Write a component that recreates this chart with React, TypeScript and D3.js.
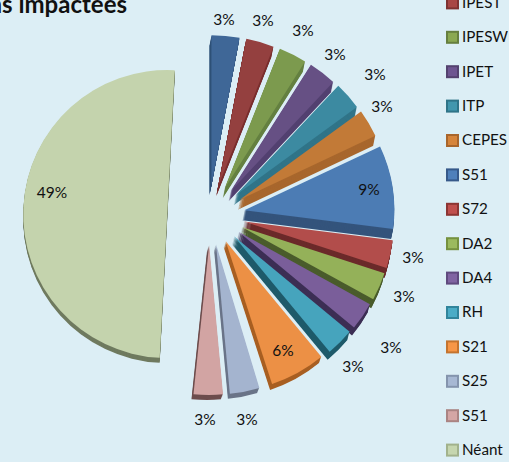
import React from "react";
import * as d3 from "d3";

const categories = ["", "IPEST", "IPESW", "IPET", "ITP", "CEPES", "S51", "S72", "DA2", "DA4", "RH", "S21", "S25", "S51", "Néant"];
const values = [3, 3, 3, 3, 3, 3, 9, 3, 3, 3, 3, 6, 3, 3, 49];
const topColors = ["#3f6797", "#94403f", "#7c9a4e", "#665084", "#3c8aa1", "#c27a37", "#4c7cb4", "#b24d4b", "#94b159", "#7a5e9a", "#46a4bd", "#ec9045", "#a4b4cf", "#d2a4a3", "#c4d3ad"];
const sideColors = ["#2f5078", "#7a2f2f", "#648040", "#524070", "#307488", "#a8672d", "#34547c", "#6b2a2a", "#4a5c2c", "#3c2e54", "#1e5a6a", "#a85f22", "#6a7488", "#6d4d4d", "#6f7a5f"];
const legendInner = ["#3f6797", "#a84644", "#8aa851", "#6e5590", "#4297ae", "#d6843a", "#4f80bb", "#c04f4d", "#9bba5e", "#8064a2", "#4bacc6", "#f79646", "#a7b8d3", "#d4a6a5", "#c6d6af"];
const legendBorder = ["#2f5078", "#7e3231", "#667f3f", "#54426f", "#2f7488", "#a8652b", "#36598a", "#8c3533", "#75913f", "#5f4a7e", "#31849b", "#c4742f", "#8494ad", "#aa8483", "#a2b28c"];
const title = "Directions impactées";
const labelFont = "Lato, 'Open Sans', sans-serif";

const W = 509, H = 462;
const cx = 208, cy = 215;
const explode = 40;
const sx = 0.92, sy = 0.75;
const depthScale = d3.scaleLinear().domain([100, 170]).range([10, 5]).clamp(true);
const deg2rad = Math.PI / 180;

// perspective slant of the last slices, in degrees (start, end)
const slant: Record<number, [number, number]> = { 12: [1.2, 1.9], 13: [1.9, 2.4], 14: [-0.6, 3] };

const labelXY: [number, number][] = [
  [224, 20], [263, 21], [303, 31], [335, 55], [375, 75], [382, 107], [369, 190],
  [413, 258], [404, 297], [391, 348], [353, 367], [283, 351], [247, 420], [205, 420], [52, 193],
];

const legendX = 446;
const legendY0 = -32;
const legendStep = 34.4;

export default function App() {
  const arcs = d3.pie<number>().sort(null).value((d) => d)(values);
  const arc = d3.arc<any>().innerRadius(0);
  const slices = arcs.map((a, i) => {
    const mid = (a.startAngle + a.endAngle) / 2;
    const last = i === 14;
    const ax = cx + explode * sx * Math.sin(mid) + (last ? -4 : 0);
    const ay = cy - explode * sy * Math.cos(mid);
    const r = last ? 144 : 150;
    const [s0, s1] = slant[i] ?? [0, 0];
    const d = arc({ startAngle: a.startAngle + s0 * deg2rad, endAngle: a.endAngle + s1 * deg2rad, outerRadius: r }) as string;
    const deg = mid / deg2rad;
    const depth = Math.round(depthScale(deg));
    const shiftX = last ? 0 : 2;
    return { ax, ay, d, depth, shiftX, i };
  });
  return (
    <svg width={W} height={H} style={{ position: "fixed", left: 0, top: 0, background: "#dceef5" }}>
      <rect width={W} height={H} fill="#dceef5" />
      <text x={127} y={13} textAnchor="end" fontFamily={labelFont} fontWeight={700} fontSize={24} fill="#111">
        {title}
      </text>
      {slices.map((s) => (
        <g key={s.i}>
          {d3.range(s.depth, 0, -1).map((k) => (
            <path key={k} d={s.d} transform={`translate(${s.ax - (k * s.shiftX) / s.depth},${s.ay + k})`} fill={sideColors[s.i]} />
          ))}
          <path d={s.d} transform={`translate(${s.ax},${s.ay})`} fill={topColors[s.i]} />
        </g>
      ))}
      {values.map((v, i) => (
        <text key={i} x={labelXY[i][0]} y={labelXY[i][1]} dy="0.35em" textAnchor="middle" fontFamily={labelFont} fontSize={15.5} fill="#111">
          {v}%
        </text>
      ))}
      {categories.map((c, i) =>
        c ? (
          <g key={i}>
            <rect x={legendX + 1} y={legendY0 + i * legendStep - 5} width={11} height={11} fill={legendInner[i]} stroke={legendBorder[i]} strokeWidth={2} />
            <text x={legendX + 16} y={legendY0 + i * legendStep} dy="0.36em" fontFamily={labelFont} fontSize={15.2} fill="#111">
              {c}
            </text>
          </g>
        ) : null
      )}
    </svg>
  );
}
